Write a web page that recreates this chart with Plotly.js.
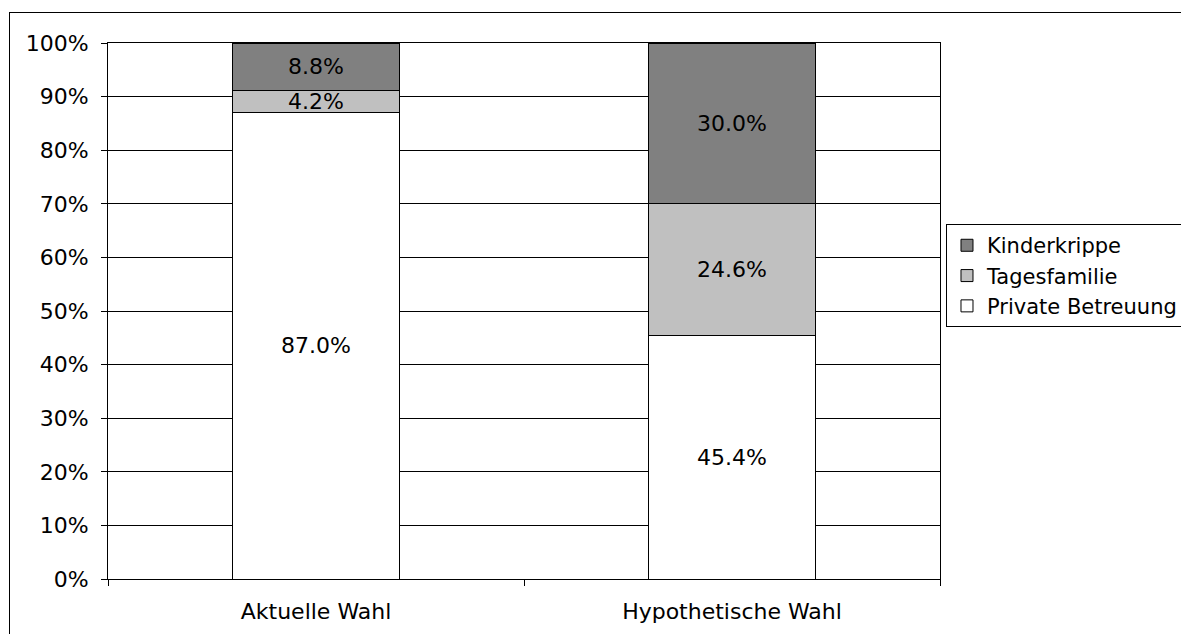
<!DOCTYPE html>
<html>
<head>
<meta charset="utf-8">
<script src="https://cdn.plot.ly/plotly-3.0.1.min.js"></script>
<style>
    body { margin: 0; overflow: hidden; background: #fff; }
    #plot { width: 1181px; height: 634px; }
    #frame {
        position: absolute; left: 9px; top: 12px;
        width: 2000px; height: 2000px;
        border: 1px solid #000; pointer-events: none;
    }
</style>
</head>
<body>
<div id="plot"></div>
<div id="frame"></div>
<script>
// categories and shares (percent)
const categories = ['Aktuelle Wahl', 'Hypothetische Wahl'];
const privateBetreuung = [87.0, 45.4];
const tagesfamilie = [4.2, 24.6];
const kinderkrippe = [8.8, 30.0];

// y axis ticks
const yTickVals = [0, 10, 20, 30, 40, 50, 60, 70, 80, 90, 100];
const yTickText = ['0%', '10%', '20%', '30%', '40%', '50%', '60%', '70%', '80%', '90%', '100%'];

const font = { family: 'DejaVu Sans, Verdana, sans-serif', size: 22, color: '#000' };
const legendFont = { family: 'DejaVu Sans, Verdana, sans-serif', size: 21, color: '#000' };

function barTrace(name, values, color) {
    return {
        type: 'bar',
        name: name,
        x: categories,
        y: values,
        marker: { color: color, line: { color: '#000', width: 1 } },
        texttemplate: '%{y:.1f}%',
        textposition: 'inside',
        insidetextanchor: 'middle',
        constraintext: 'none',
        textangle: 0,
        insidetextfont: font,
        hoverinfo: 'none'
    };
}

const data = [
    barTrace('Private Betreuung', privateBetreuung, '#ffffff'),
    barTrace('Tagesfamilie', tagesfamilie, '#c0c0c0'),
    barTrace('Kinderkrippe', kinderkrippe, '#808080')
];

const layout = {
    width: 1181,
    height: 634,
    margin: { l: 108, r: 241, t: 43, b: 55, autoexpand: false },
    paper_bgcolor: '#fff',
    plot_bgcolor: '#fff',
    font: font,
    barmode: 'stack',
    bargap: 0.6,
    showlegend: true,
    legend: {
        traceorder: 'reversed',
        x: 1.0072,
        xanchor: 'left',
        y: 0.566,
        yanchor: 'middle',
        bordercolor: '#000',
        borderwidth: 1,
        bgcolor: '#fff',
        font: legendFont
    },
    xaxis: {
        type: 'category',
        tickson: 'boundaries',
        ticks: 'outside',
        ticklen: 6,
        tickcolor: '#000',
        showline: true,
        linecolor: '#000',
        linewidth: 1,
        mirror: true,
        showgrid: false,
        ticklabelstandoff: 13,
        tickfont: font
    },
    yaxis: {
        range: [0, 100],
        tickmode: 'array',
        tickvals: yTickVals,
        ticktext: yTickText,
        ticks: 'outside',
        ticklen: 6,
        tickcolor: '#000',
        showline: true,
        linecolor: '#000',
        linewidth: 1,
        mirror: true,
        showgrid: true,
        gridcolor: '#000',
        gridwidth: 1,
        zeroline: false,
        ticklabelstandoff: 8,
        tickfont: font
    }
};

Plotly.newPlot('plot', data, layout, { displayModeBar: false, staticPlot: true });
</script>
</body>
</html>
